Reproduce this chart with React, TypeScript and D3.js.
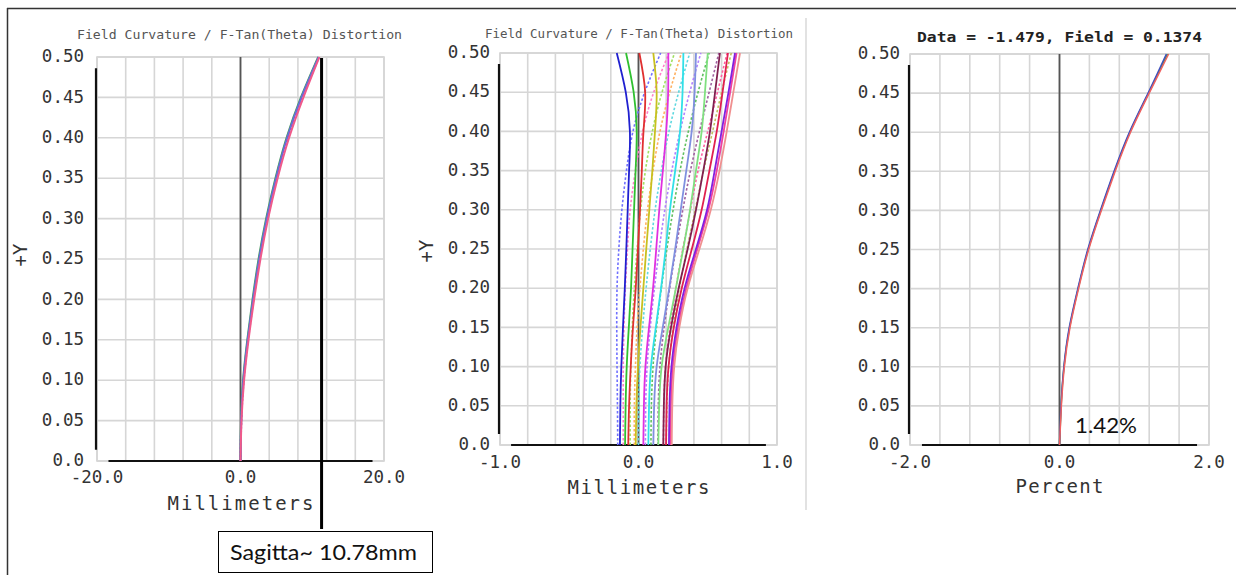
import React from "react";
import * as d3 from "d3";

// ---------- data ----------
const fieldY = [0, 0.05, 0.1, 0.15, 0.2, 0.25, 0.3, 0.35, 0.4, 0.45, 0.5];
const yTickLabels = ["0.0", "0.05", "0.10", "0.15", "0.20", "0.25", "0.30", "0.35", "0.40", "0.45", "0.50"];
const yTicks = [0, 0.05, 0.1, 0.15, 0.2, 0.25, 0.3, 0.35, 0.4, 0.45, 0.5];

// Panel 1: field curvature, wide scale (mm)
const p1Blue = [0, 0.1, 0.4, 1.0, 1.75, 2.6, 3.65, 4.95, 6.5, 8.5, 10.9];
const p1Green = [0, 0.08, 0.36, 0.95, 1.68, 2.52, 3.57, 4.87, 6.42, 8.42, 10.82];
const p1Pink = [0, 0.14, 0.5, 1.12, 1.9, 2.78, 3.85, 5.17, 6.77, 8.77, 11.0];
const p1Purple = [0, 0.12, 0.45, 1.06, 1.82, 2.68, 3.75, 5.05, 6.6, 8.62, 10.95];
const p1XTicks = [-20, 0, 20];
const p1XTickLabels = ["-20.0", "0.0", "20.0"];
const sagitta = 11.3;

// Panel 2: field curvature, zoomed (mm) - solid (tangential)
const p2Solid = [
  [-0.134, -0.131, -0.124, -0.112, -0.099, -0.088, -0.078, -0.068, -0.062, -0.092, -0.157],
  [-0.097, -0.093, -0.085, -0.07, -0.054, -0.043, -0.032, -0.021, -0.013, -0.035, -0.09],
  [-0.074, -0.068, -0.056, -0.04, -0.02, -0.004, 0.011, 0.024, 0.036, 0.048, 0.006],
  [-0.02, -0.015, -0.004, 0.014, 0.035, 0.056, 0.078, 0.1, 0.119, 0.131, 0.107],
  [0.035, 0.039, 0.05, 0.076, 0.105, 0.128, 0.15, 0.176, 0.2, 0.214, 0.215],
  [0.071, 0.076, 0.09, 0.125, 0.163, 0.196, 0.227, 0.265, 0.3, 0.318, 0.324],
  [0.107, 0.113, 0.131, 0.175, 0.222, 0.265, 0.305, 0.345, 0.384, 0.405, 0.415],
  [0.143, 0.149, 0.167, 0.215, 0.27, 0.323, 0.372, 0.415, 0.456, 0.48, 0.5],
  [0.179, 0.183, 0.196, 0.235, 0.29, 0.355, 0.415, 0.468, 0.516, 0.553, 0.588],
  [0.23, 0.234, 0.248, 0.285, 0.345, 0.425, 0.505, 0.565, 0.615, 0.662, 0.708],
  [0.199, 0.203, 0.217, 0.255, 0.312, 0.385, 0.456, 0.512, 0.565, 0.607, 0.646],
  [0.22, 0.224, 0.238, 0.275, 0.333, 0.415, 0.495, 0.55, 0.6, 0.65, 0.697],
  [0.24, 0.244, 0.258, 0.295, 0.355, 0.44, 0.522, 0.585, 0.637, 0.685, 0.733],
];
const p2SolidColors = ["#2020d0", "#30c030", "#e03030", "#c8c020", "#e030e0", "#30e0e8", "#8090e0", "#80e080", "#802050", "#f040a0", "#e02050", "#8020e0", "#f09090"];
// dotted (sagittal)
const p2Dotted = [
  [-0.15, -0.152, -0.155, -0.157, -0.155, -0.142, -0.12, -0.087, -0.04, 0.045, 0.16],
  [-0.11, -0.11, -0.11, -0.105, -0.095, -0.08, -0.06, -0.022, 0.03, 0.11, 0.22],
  [-0.06, -0.06, -0.055, -0.045, -0.03, -0.01, 0.015, 0.05, 0.1, 0.17, 0.26],
  [-0.03, -0.03, -0.022, -0.01, 0.01, 0.035, 0.065, 0.105, 0.155, 0.225, 0.31],
  [0.0, 0.002, 0.01, 0.03, 0.055, 0.085, 0.12, 0.165, 0.22, 0.29, 0.37],
  [0.05, 0.052, 0.062, 0.085, 0.115, 0.15, 0.19, 0.24, 0.3, 0.37, 0.45],
  [0.09, 0.093, 0.105, 0.13, 0.165, 0.205, 0.25, 0.3, 0.36, 0.43, 0.51],
  [0.14, 0.143, 0.155, 0.185, 0.225, 0.27, 0.32, 0.375, 0.44, 0.51, 0.58],
  [0.18, 0.183, 0.195, 0.228, 0.27, 0.32, 0.375, 0.43, 0.5, 0.57, 0.64],
  [0.2, 0.205, 0.218, 0.25, 0.295, 0.35, 0.41, 0.47, 0.535, 0.6, 0.67],
];
const p2DottedColors = ["#7070ff", "#ff80c8", "#a0e060", "#ffb060", "#60d8e0", "#b080ff", "#60c060", "#a060a0", "#ff60a0", "#c0c060"];
const p2XTicks = [-1, 0, 1];
const p2XTickLabels = ["-1.0", "0.0", "1.0"];

// Panel 3: distortion (%)
const p3Red = [0, 0.025, 0.065, 0.14, 0.255, 0.39, 0.56, 0.745, 0.95, 1.2, 1.46];
const p3Blue = [0, 0.02, 0.058, 0.13, 0.245, 0.378, 0.547, 0.73, 0.935, 1.185, 1.43];
const p3Green = [0, 0.022, 0.06, 0.135, 0.25, 0.384, 0.553, 0.737, 0.942, 1.192, 1.445];
const p3XTicks = [-2, 0, 2];
const p3XTickLabels = ["-2.0", "0.0", "2.0"];

const MONO = "'DejaVu Sans Mono', monospace";
const SANS = "Lato, 'Open Sans', sans-serif";

type PanelProps = {
  x0: number; x1: number; y0: number; y1: number;
  xDomain: [number, number];
  xTicks: number[]; xTickLabels: string[];
  yLabelRight: number; xLabelY: number;
  axisLabel: string; axisLabelY: number; axisLabelLen: number;
  title: string; titleX: number; titleY: number; titleLen: number; titleDark?: boolean;
  yAxisTitle?: { x: number; y: number };
  children: (xs: d3.ScaleLinear<number, number>, ys: d3.ScaleLinear<number, number>) => React.ReactNode;
};

function Panel(p: PanelProps) {
  const xs = d3.scaleLinear().domain(p.xDomain).range([p.x0, p.x1]);
  const ys = d3.scaleLinear().domain([0, 0.5]).range([p.y1, p.y0]);
  const gridX = d3.range(11).map((i) => p.xDomain[0] + (i * (p.xDomain[1] - p.xDomain[0])) / 10);
  const span = p.xDomain[1] - p.xDomain[0];
  return (
    <g>
      <text x={p.titleX} y={p.titleY} fontFamily={MONO} fontSize={p.titleDark ? 14 : 12.5}
        fontWeight={p.titleDark ? "bold" : "normal"} fill={p.titleDark ? "#222" : "#555"}
        textLength={p.titleLen} lengthAdjust="spacingAndGlyphs">{p.title}</text>
      <rect x={p.x0} y={p.y0} width={p.x1 - p.x0} height={p.y1 - p.y0} fill="white" stroke="#cfcfcf" strokeWidth={1.5} />
      {gridX.map((g, i) => (
        <line key={"gx" + i} x1={xs(g)} x2={xs(g)} y1={p.y0} y2={p.y1} stroke="#d6d6d6" strokeWidth={1.6} />
      ))}
      {yTicks.map((t, i) => (
        <line key={"gy" + i} x1={p.x0} x2={p.x1} y1={ys(t)} y2={ys(t)} stroke="#d6d6d6" strokeWidth={1.6} />
      ))}
      <line x1={xs(0)} x2={xs(0)} y1={p.y0} y2={p.y1} stroke="#555" strokeWidth={1.8} />
      {/* black axes */}
      <line x1={p.x0 - 1} x2={p.x0 - 1} y1={ys(0.5 - 0.014)} y2={ys(0.014)} stroke="#111" strokeWidth={2.2} />
      <line x1={xs(p.xDomain[0] + span * 0.04)} x2={xs(p.xDomain[1] - span * 0.04)} y1={p.y1} y2={p.y1} stroke="#111" strokeWidth={2.2} />
      {p.children(xs, ys)}
      {yTicks.map((t, i) => (
        <text key={"yl" + i} x={p.yLabelRight} y={ys(t)} dy="0.3em" textAnchor="end"
          fontFamily={MONO} fontSize={17.5} fill="#333">{yTickLabels[i]}</text>
      ))}
      {p.xTicks.map((t, i) => (
        <text key={"xl" + i} x={xs(t)} y={p.xLabelY} textAnchor="middle"
          fontFamily={MONO} fontSize={17.5} fill="#333">{p.xTickLabels[i]}</text>
      ))}
      <text x={xs(0)} y={p.axisLabelY} textAnchor="middle" fontFamily={MONO} fontSize={19} fill="#333"
        textLength={p.axisLabelLen} lengthAdjust="spacing">{p.axisLabel}</text>
      {p.yAxisTitle && (
        <text transform={`translate(${p.yAxisTitle.x},${p.yAxisTitle.y}) rotate(-90)`} textAnchor="middle"
          dy="0.36em" fontFamily={MONO} fontSize={19} fill="#333">+Y</text>
      )}
    </g>
  );
}

function makeLine(xs: d3.ScaleLinear<number, number>, ys: d3.ScaleLinear<number, number>, vals: number[]) {
  const gen = d3.line<number>()
    .x((v) => xs(v))
    .y((_, i) => ys(fieldY[i]))
    .curve(d3.curveNatural);
  return gen(vals) || "";
}

export default function App() {
  return (
    <svg width={1236} height={575} style={{ position: "absolute", left: 0, top: 0, background: "white" }}
      xmlns="http://www.w3.org/2000/svg">
      <rect x={0} y={0} width={1236} height={575} fill="white" />
      {/* outer frame */}
      <line x1={7} x2={1236} y1={8.5} y2={8.5} stroke="#333" strokeWidth={1.5} />
      <line x1={7.5} x2={7.5} y1={8} y2={575} stroke="#333" strokeWidth={1.5} />
      {/* separator */}
      <line x1={806} x2={806} y1={18} y2={510} stroke="#e2e2e2" strokeWidth={2} />

      <Panel x0={97} x1={384} y0={57} y1={461} xDomain={[-20, 20]} xTicks={p1XTicks} xTickLabels={p1XTickLabels}
        yLabelRight={84} xLabelY={483} axisLabel="Millimeters" axisLabelY={510} axisLabelLen={146}
        title="Field Curvature / F-Tan(Theta) Distortion" titleX={77} titleY={39} titleLen={325}
        yAxisTitle={{ x: 20, y: 255 }}>
        {(xs, ys) => (
          <g fill="none">
            <path d={makeLine(xs, ys, p1Green)} stroke="#4a9a5a" strokeWidth={2} />
            <path d={makeLine(xs, ys, p1Blue)} stroke="#5a78d8" strokeWidth={2} />
            <path d={makeLine(xs, ys, p1Purple)} stroke="#9050d0" strokeWidth={2} strokeDasharray="2,2" />
            <path d={makeLine(xs, ys, p1Pink)} stroke="#f05a8a" strokeWidth={2} />
            <line x1={xs(sagitta)} x2={xs(sagitta)} y1={ys(0.5) + 1} y2={529} stroke="#000" strokeWidth={3} />
          </g>
        )}
      </Panel>

      <Panel x0={500} x1={777} y0={53} y1={445} xDomain={[-1, 1]} xTicks={p2XTicks} xTickLabels={p2XTickLabels}
        yLabelRight={490} xLabelY={468} axisLabel="Millimeters" axisLabelY={494} axisLabelLen={142}
        title="Field Curvature / F-Tan(Theta) Distortion" titleX={485} titleY={38} titleLen={308}
        yAxisTitle={{ x: 426, y: 251 }}>
        {(xs, ys) => (
          <g fill="none">
            {p2Dotted.map((vals, i) => (
              <path key={"d" + i} d={makeLine(xs, ys, vals)} stroke={p2DottedColors[i]} strokeWidth={1.6} strokeDasharray="2.5,2" />
            ))}
            {p2Solid.map((vals, i) => (
              <path key={"s" + i} d={makeLine(xs, ys, vals)} stroke={p2SolidColors[i]} strokeWidth={1.8} />
            ))}
          </g>
        )}
      </Panel>

      <Panel x0={910} x1={1209} y0={54} y1={445} xDomain={[-2, 2]} xTicks={p3XTicks} xTickLabels={p3XTickLabels}
        yLabelRight={900} xLabelY={468} axisLabel="Percent" axisLabelY={493} axisLabelLen={88}
        title="Data = -1.479, Field = 0.1374" titleX={917} titleY={42} titleLen={285} titleDark>
        {(xs, ys) => (
          <g fill="none">
            <path d={makeLine(xs, ys, p3Green)} stroke="#40a040" strokeWidth={1.5} />
            <path d={makeLine(xs, ys, p3Blue)} stroke="#4050c0" strokeWidth={1.5} />
            <path d={makeLine(xs, ys, p3Red)} stroke="#f06060" strokeWidth={1.5} />
          </g>
        )}
      </Panel>

      {/* annotations */}
      <rect x={218.5} y={531.5} width={214} height={41} fill="white" stroke="#000" strokeWidth={1} />
      <text x={230} y={560} fontFamily={SANS} fontSize={22} fill="#111" textLength={187} lengthAdjust="spacingAndGlyphs">Sagitta~ 10.78mm</text>
      <text x={1075} y={433} fontFamily={SANS} fontSize={22} fill="#111" textLength={62} lengthAdjust="spacingAndGlyphs">1.42%</text>
    </svg>
  );
}
